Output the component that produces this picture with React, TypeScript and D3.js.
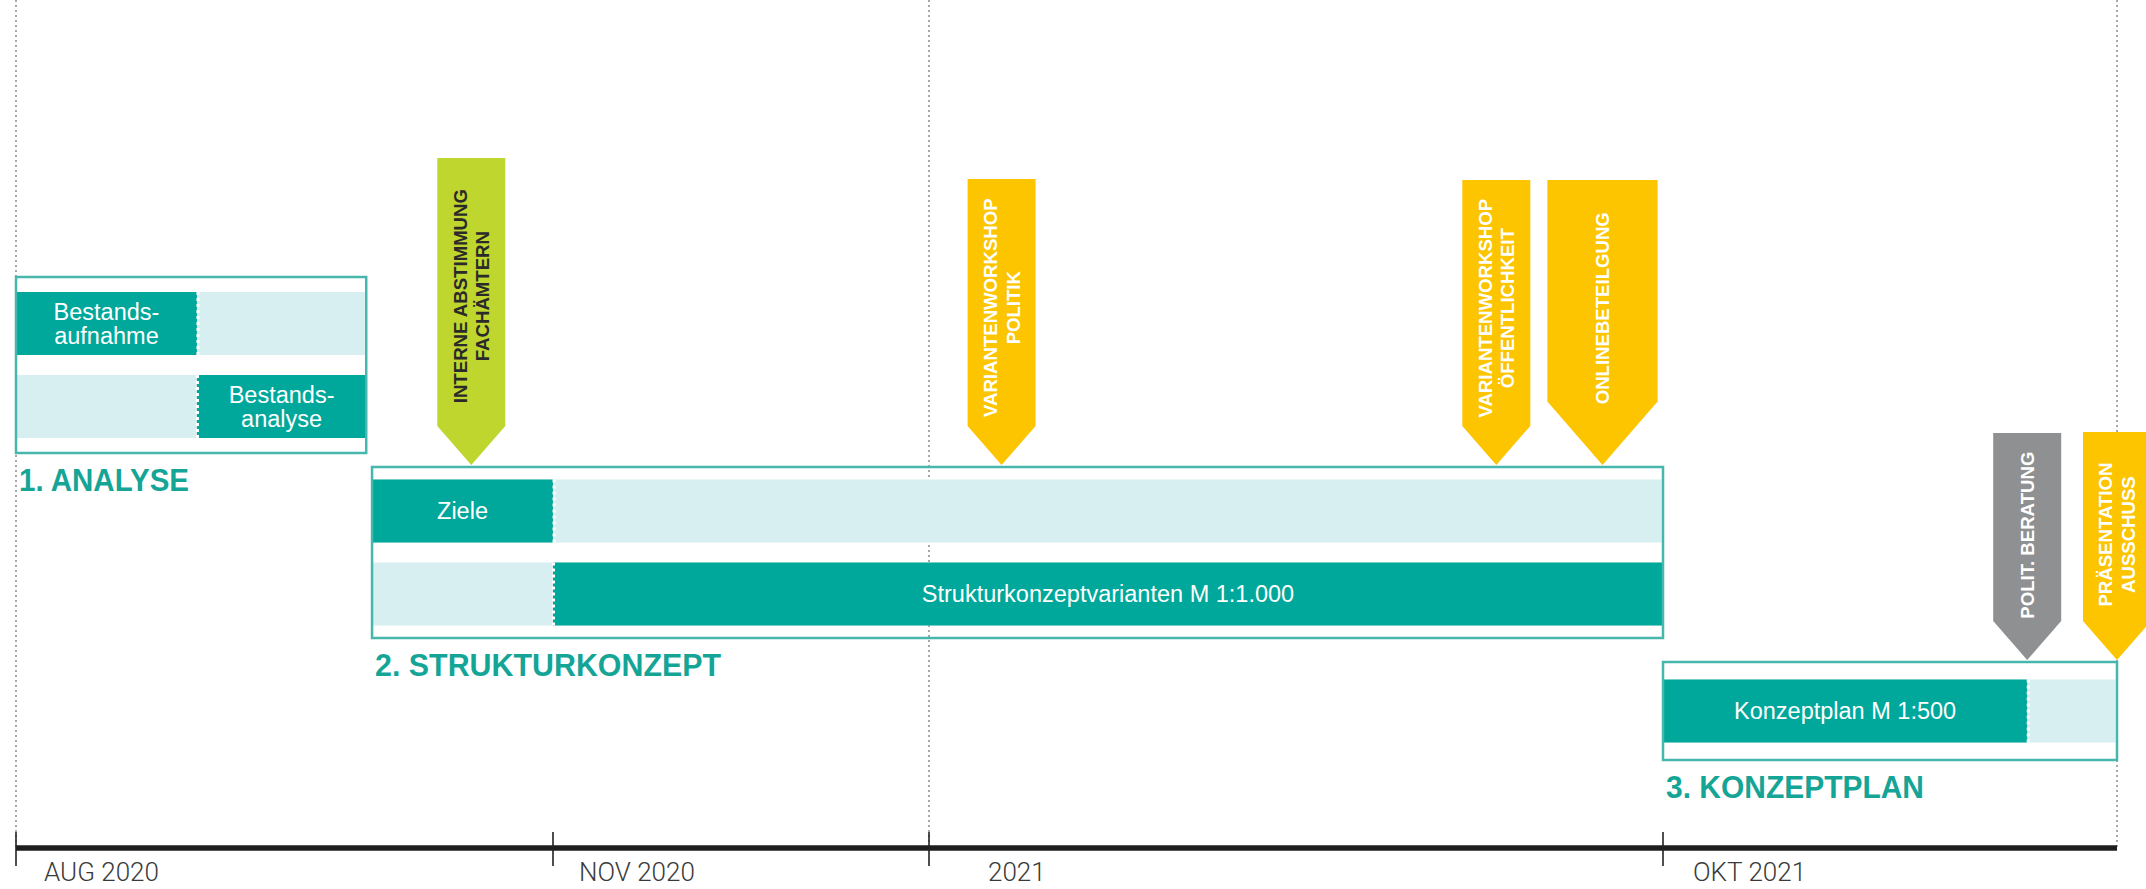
import React from "react";
import * as d3 from "d3";

// ---------------- DATA ----------------
const axisBreakDates = [
  new Date(2020, 7, 1),
  new Date(2020, 10, 1),
  new Date(2021, 0, 1),
  new Date(2021, 9, 1),
  new Date(2021, 11, 31),
];
const tickDates = [new Date(2020, 7, 1), new Date(2020, 10, 1), new Date(2021, 0, 1), new Date(2021, 9, 1)];
const tickLabels = ["AUG 2020", "NOV 2020", "2021", "OKT 2021"];
const gridDates = [new Date(2020, 7, 1), new Date(2021, 0, 1), new Date(2021, 11, 31)];

const phaseNames = ["1. ANALYSE", "2. STRUKTURKONZEPT", "3. KONZEPTPLAN"];
const phaseStart = [new Date(2020, 7, 1), new Date(2020, 9, 1), new Date(2021, 9, 1)];
const phaseEnd = [new Date(2020, 8, 30), new Date(2021, 9, 1), new Date(2021, 11, 31)];

const taskLabels = [
  ["Bestands-", "aufnahme"],
  ["Bestands-", "analyse"],
  ["Ziele"],
  ["Strukturkonzeptvarianten M 1:1.000"],
  ["Konzeptplan M 1:500"],
];
const taskPhase = [0, 0, 1, 1, 2];
const taskStart = [
  new Date(2020, 7, 1),
  new Date(2020, 8, 1),
  new Date(2020, 9, 1),
  new Date(2020, 10, 1),
  new Date(2021, 9, 1),
];
const taskEnd = [
  new Date(2020, 8, 1),
  new Date(2020, 8, 30),
  new Date(2020, 10, 1),
  new Date(2021, 9, 1),
  new Date(2021, 11, 13),
];

const milestoneLabels = [
  ["INTERNE ABSTIMMUNG", "FACHÄMTERN"],
  ["VARIANTENWORKSHOP", "POLITIK"],
  ["VARIANTENWORKSHOP", "ÖFFENTLICHKEIT"],
  ["ONLINEBETEILGUNG"],
  ["POLIT. BERATUNG"],
  ["PRÄSENTATION", "AUSSCHUSS"],
];
const milestoneStart = [
  new Date(2020, 9, 18),
  new Date(2021, 0, 28),
  new Date(2021, 6, 31),
  new Date(2021, 7, 19),
  new Date(2021, 11, 13),
  new Date(2021, 11, 31),
];
const milestoneEnd = [
  new Date(2020, 9, 18),
  new Date(2021, 0, 28),
  new Date(2021, 6, 31),
  new Date(2021, 8, 29),
  new Date(2021, 11, 13),
  new Date(2021, 11, 31),
];
const milestoneKind = ["intern", "beteiligung", "beteiligung", "beteiligung", "politik", "beteiligung"];
const milestonePhase = [1, 1, 1, 1, 2, 2];

// ---------------- LAYOUT / STYLE ----------------
const W = 2146;
const H = 889;
const X_RANGE = [16, 553, 929, 1663, 2117];
const phaseBoxY = [
  [277, 453],
  [467, 638],
  [662, 760],
];
const phaseTitleWidth = [170, 346, 258];
const markerTopY = [158, 179, 180, 180, 433, 432];
const tickLabelDx = [28, 26, 59, 30];
const ROW_H = 63;
const ROW_GAP = 20;
const MARKER_W = 68;
const AXIS_Y = 848;

const DARK = "#00a89b";
const LIGHT = "#d7eff0";
const BOX = "#47b6ac";
const TITLE = "#14a596";
const kindFill: Record<string, string> = { intern: "#bfd62e", beteiligung: "#fcc500", politik: "#8f9092" };
const kindText: Record<string, string> = { intern: "#2a2a2a", beteiligung: "#ffffff", politik: "#ffffff" };
const SANS = "'Liberation Sans', Arial, sans-serif";

export default function App() {
  const x = d3.scaleTime<number, number>().domain(axisBreakDates).range(X_RANGE);

  const rowIdx: number[] = [];
  const counts: number[] = phaseNames.map(() => 0);
  taskPhase.forEach((p, i) => {
    rowIdx[i] = counts[p]++;
  });

  const rowY = (i: number) => {
    const p = taskPhase[i];
    const n = counts[p];
    const [y0, y1] = phaseBoxY[p];
    const total = n * ROW_H + (n - 1) * ROW_GAP;
    const pad = (y1 - y0 - total) / 2;
    return y0 + pad + rowIdx[i] * (ROW_H + ROW_GAP);
  };

  const line = d3.line<[number, number]>();

  return (
    <svg
      width={W}
      height={H}
      style={{ position: "absolute", left: 0, top: 0, background: "#fff" }}
      fontFamily={SANS}
    >
      <rect x={0} y={0} width={W} height={H} fill="#fff" />
      {gridDates.map((d, i) => (
        <line
          key={"g" + i}
          x1={x(d)}
          x2={x(d)}
          y1={0}
          y2={AXIS_Y}
          stroke="#7a7a7a"
          strokeWidth={1.3}
          strokeDasharray="2,3"
        />
      ))}

      {taskLabels.map((lab, i) => {
        const p = taskPhase[i];
        const px0 = x(phaseStart[p]);
        const px1 = x(phaseEnd[p]);
        const y = rowY(i);
        const sx = x(taskStart[i]);
        const ex = x(taskEnd[i]);
        const cx = (sx + ex) / 2;
        const cy = y + ROW_H / 2;
        const fs = 23.5;
        const lh = 24;
        return (
          <g key={"t" + i}>
            <rect x={px0} y={y} width={px1 - px0 - 1.5} height={ROW_H} fill={LIGHT} />
            <rect x={sx} y={y} width={ex - sx} height={ROW_H} fill={DARK} />
            {sx > px0 + 1 && (
              <line x1={sx + 0.5} x2={sx + 0.5} y1={y} y2={y + ROW_H} stroke="#fff" strokeWidth={3} strokeDasharray="3,3" />
            )}
            {ex < px1 - 1 && (
              <line x1={ex + 1} x2={ex + 1} y1={y} y2={y + ROW_H} stroke="#fff" strokeWidth={3} strokeDasharray="3,3" />
            )}
            <text textAnchor="middle" fill="#fff" fontSize={fs}>
              {lab.map((t, k) => (
                <tspan key={k} x={cx} y={cy + (k - (lab.length - 1) / 2) * lh + fs * 0.35}>
                  {t}
                </tspan>
              ))}
            </text>
          </g>
        );
      })}

      {phaseNames.map((name, p) => {
        const px0 = x(phaseStart[p]);
        const px1 = x(phaseEnd[p]);
        const [y0, y1] = phaseBoxY[p];
        return (
          <g key={"p" + p}>
            <rect x={px0} y={y0} width={px1 - px0} height={y1 - y0} fill="none" stroke={BOX} strokeWidth={2.5} />
            <text
              x={px0 + 3}
              y={y1 + 38}
              fontSize={32}
              fontWeight={700}
              fill={TITLE}
              textLength={phaseTitleWidth[p]}
              lengthAdjust="spacingAndGlyphs"
            >
              {name}
            </text>
          </g>
        );
      })}

      {milestoneLabels.map((lab, i) => {
        const s = x(milestoneStart[i]);
        const e = x(milestoneEnd[i]);
        let x0: number, x1: number;
        if (e - s < 1) {
          x0 = s - MARKER_W / 2;
          x1 = s + MARKER_W / 2;
        } else {
          x0 = s;
          x1 = e;
        }
        const cx = (x0 + x1) / 2;
        const top = markerTopY[i];
        const tip = phaseBoxY[milestonePhase[i]][0] - 2;
        const body = tip - ((x1 - x0) / 2) * 1.15;
        const pts: [number, number][] = [
          [x0, top],
          [x1, top],
          [x1, body],
          [cx, tip],
          [x0, body],
          [x0, top],
        ];
        const ty = top + 0.45 * (tip - top);
        const fs = 18.6;
        const lh = 22.5;
        const kind = milestoneKind[i];
        return (
          <g key={"m" + i}>
            <path d={line(pts) || ""} fill={kindFill[kind]} />
            <text
              transform={`translate(${cx},${ty}) rotate(-90)`}
              textAnchor="middle"
              fontSize={fs}
              fontWeight={700}
              fill={kindText[kind]}
            >
              {lab.map((t, k) => (
                <tspan key={k} x={0} y={(k - (lab.length - 1) / 2) * lh + fs * 0.36}>
                  {t}
                </tspan>
              ))}
            </text>
          </g>
        );
      })}

      <line
        x1={X_RANGE[0]}
        x2={X_RANGE[X_RANGE.length - 1]}
        y1={AXIS_Y}
        y2={AXIS_Y}
        stroke="#1e1e1e"
        strokeWidth={5.5}
      />
      {tickDates.map((d, i) => (
        <g key={"tk" + i}>
          <line x1={x(d)} x2={x(d)} y1={832} y2={866} stroke="#222" strokeWidth={1.6} />
          <text
            x={x(d) + tickLabelDx[i]}
            y={881}
            fontSize={26}
            fontFamily="Roboto, 'Liberation Sans', sans-serif"
            fontWeight={300}
            fill="#3a3a3a"
          >
            {tickLabels[i]}
          </text>
        </g>
      ))}
    </svg>
  );
}
